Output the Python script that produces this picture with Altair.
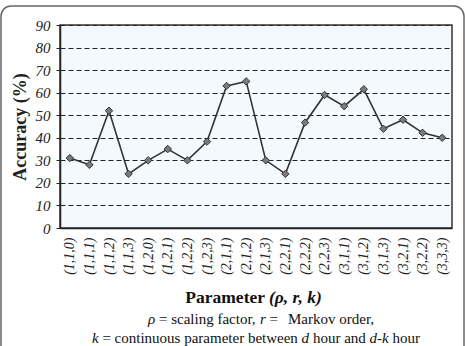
import altair as alt
import pandas as pd

params = ["(1,1,0)", "(1,1,1)", "(1,1,2)", "(1,1,3)", "(1,2,0)", "(1,2,1)", "(1,2,2)",
          "(1,2,3)", "(2,1,1)", "(2,1,2)", "(2,1,3)", "(2,2,1)", "(2,2,2)", "(2,2,3)",
          "(3,1,1)", "(3,1,2)", "(3,1,3)", "(3,2,1)", "(3,2,2)", "(3,3,3)"]
accuracy = [31, 28, 52, 24, 30, 35, 30, 38.3, 63, 65, 30, 24, 46.7, 59, 54, 61.5, 44, 48, 42.2, 40]
y_ticks = [0, 10, 20, 30, 40, 50, 60, 70, 80, 90]

df = pd.DataFrame({"param": params, "acc": accuracy})
SERIF = "Liberation Serif"
W, H = 392, 203
OX, OY = 60, 25  # plot origin in page pixels

x_enc = alt.X("param:N", sort=params, scale=alt.Scale(paddingInner=0, paddingOuter=0),
              axis=alt.Axis(title=None, labelAngle=270, labelAlign="right", labelBaseline="middle",
                            labelFont=SERIF, labelFontStyle="italic", labelFontSize=14,
                            labelColor="#222", labelPadding=9, ticks=False, domain=True,
                            domainColor="#222", domainWidth=1.5, grid=False))
y_enc = alt.Y("acc:Q", scale=alt.Scale(domain=[0, 90], nice=False),
              axis=alt.Axis(values=y_ticks, title="Accuracy (%)", titleFont=SERIF,
                            titleFontSize=18, titleFontWeight="bold", titleColor="#222",
                            titleAngle=270, titleX=-40, titleY=H / 2, titleAlign="center",
                            titleBaseline="middle",
                            labelFont=SERIF, labelFontStyle="italic", labelFontSize=15,
                            labelColor="#222", labelPadding=6, tickSize=4, tickColor="#222",
                            domainColor="#222", domainWidth=1.5,
                            grid=True, gridColor="#222", gridDash=[5, 3], gridWidth=1.2))

line = alt.Chart(df).mark_line(color="#333", strokeWidth=1.6).encode(x=x_enc, y=y_enc)
pts = alt.Chart(df).mark_point(shape="diamond", filled=True, fill="#7a7a7a", stroke="#333",
                               strokeWidth=1, size=55, opacity=1).encode(x=x_enc, y=y_enc)

border = alt.Chart(pd.DataFrame({"a": [0]})).mark_rect(
    fill=None, stroke="#666", strokeWidth=1.5, cornerRadius=10).encode(
    x=alt.value(1 - OX), x2=alt.value(464 - OX), y=alt.value(6 - OY), y2=alt.value(380 - OY))


def seg(text, x, y, size=15, style="normal", weight="normal", align="left"):
    return alt.Chart(pd.DataFrame({"t": [text]})).mark_text(
        font=SERIF, fontSize=size, fontStyle=style, fontWeight=weight, align=align,
        baseline="middle", color="#111").encode(
        text="t:N", x=alt.value(x - OX), y=alt.value(y - OY))


texts = [
    seg("Parameter", 265, 298, size=17.5, weight="bold", align="right"),
    seg("(ρ, r, k)", 269, 298, size=17.5, weight="bold", style="italic"),
    seg("ρ", 148, 319, style="italic"),
    seg("= scaling factor,", 159, 319),
    seg("r", 260, 319, style="italic"),
    seg("=", 269.5, 319),
    seg("Markov order,", 288, 319),
    seg("k", 92, 338, style="italic"),
    seg("= continuous parameter between", 102.4, 338),
    seg("d", 301.6, 338, style="italic"),
    seg("hour and", 312.9, 338),
    seg("d-k", 369.5, 338, style="italic"),
    seg("hour", 392.4, 338),
]

chart = alt.layer(border, line, pts, *texts).properties(
    width=W, height=H,
    autosize=alt.AutoSizeParams(type="none"),
    padding={"left": OX, "top": OY, "right": 465 - OX - W, "bottom": 346 - OY - H},
    background="white",
).configure_view(fill="#f3f9fc", stroke="#333", strokeWidth=1.5)

chart.save("out.html", embed_options={"renderer": "svg", "actions": False})
